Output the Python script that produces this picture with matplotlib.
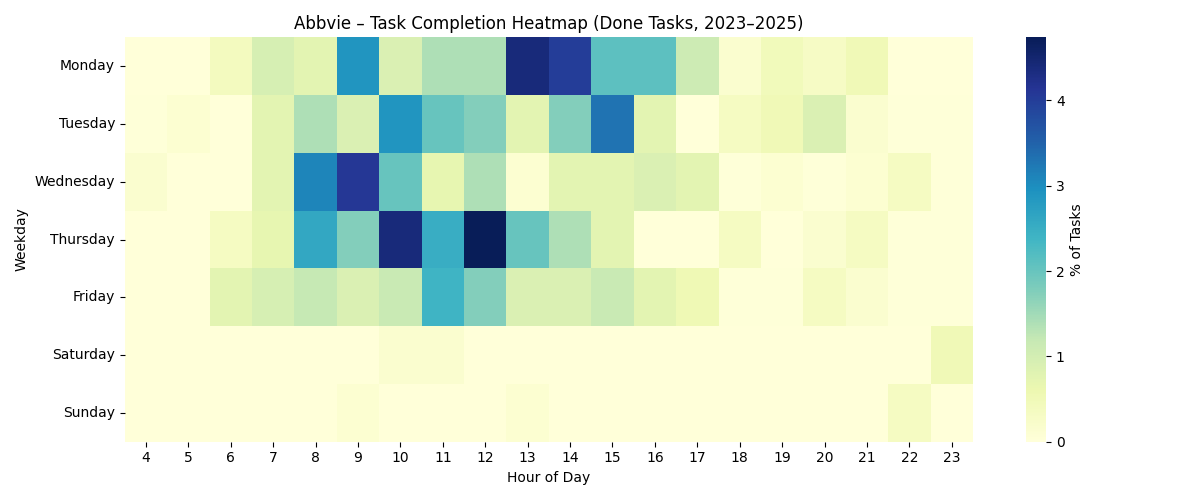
import numpy as np
import pandas as pd
import matplotlib
matplotlib.use("Agg")
import matplotlib.pyplot as plt
import seaborn as sns

# 行：星期，列：小时（4-23），数值为完成任务占比（%）
hours = list(range(4, 24))
weekdays = ["Monday", "Tuesday", "Wednesday", "Thursday", "Friday", "Saturday", "Sunday"]

monday    = [0.0, 0.0, 0.4, 0.95, 0.75, 2.9, 0.9, 1.4, 1.4, 4.4, 4.0, 2.1, 2.1, 1.1, 0.15, 0.45, 0.3, 0.5, 0.0, 0.0]
tuesday   = [0.02, 0.12, 0.0, 0.75, 1.4, 0.9, 2.9, 2.0, 1.75, 0.75, 1.75, 3.3, 0.75, 0.0, 0.35, 0.5, 0.9, 0.15, 0.02, 0.02]
wednesday = [0.15, 0.0, 0.0, 0.75, 3.1, 4.1, 2.0, 0.7, 1.4, 0.12, 0.75, 0.75, 0.9, 0.75, 0.02, 0.12, 0.02, 0.12, 0.35, 0.02]
thursday  = [0.0, 0.0, 0.35, 0.7, 2.6, 1.75, 4.4, 2.5, 4.74, 2.0, 1.4, 0.75, 0.0, 0.0, 0.35, 0.0, 0.15, 0.35, 0.02, 0.02]
friday    = [0.0, 0.0, 0.75, 0.95, 1.2, 0.9, 1.15, 2.4, 1.75, 0.9, 0.9, 1.15, 0.75, 0.55, 0.02, 0.02, 0.35, 0.15, 0.02, 0.02]
saturday  = [0.0, 0.0, 0.0, 0.0, 0.0, 0.0, 0.15, 0.15, 0.0, 0.0, 0.0, 0.0, 0.0, 0.0, 0.0, 0.0, 0.0, 0.0, 0.0, 0.5]
sunday    = [0.0, 0.0, 0.0, 0.0, 0.0, 0.12, 0.0, 0.0, 0.0, 0.12, 0.0, 0.0, 0.0, 0.0, 0.0, 0.0, 0.0, 0.0, 0.35, 0.0]

df = pd.DataFrame([monday, tuesday, wednesday, thursday, friday, saturday, sunday],
                  index=weekdays, columns=hours)

fig = plt.figure(figsize=(12, 5))
ax = sns.heatmap(df, cmap="YlGnBu", cbar_kws={"label": "% of Tasks"})
ax.set_title("Abbvie – Task Completion Heatmap (Done Tasks, 2023–2025)")
ax.set_xlabel("Hour of Day")
ax.set_ylabel("Weekday")
plt.yticks(rotation=0)
plt.tight_layout()
plt.savefig("out.png", dpi=100)
